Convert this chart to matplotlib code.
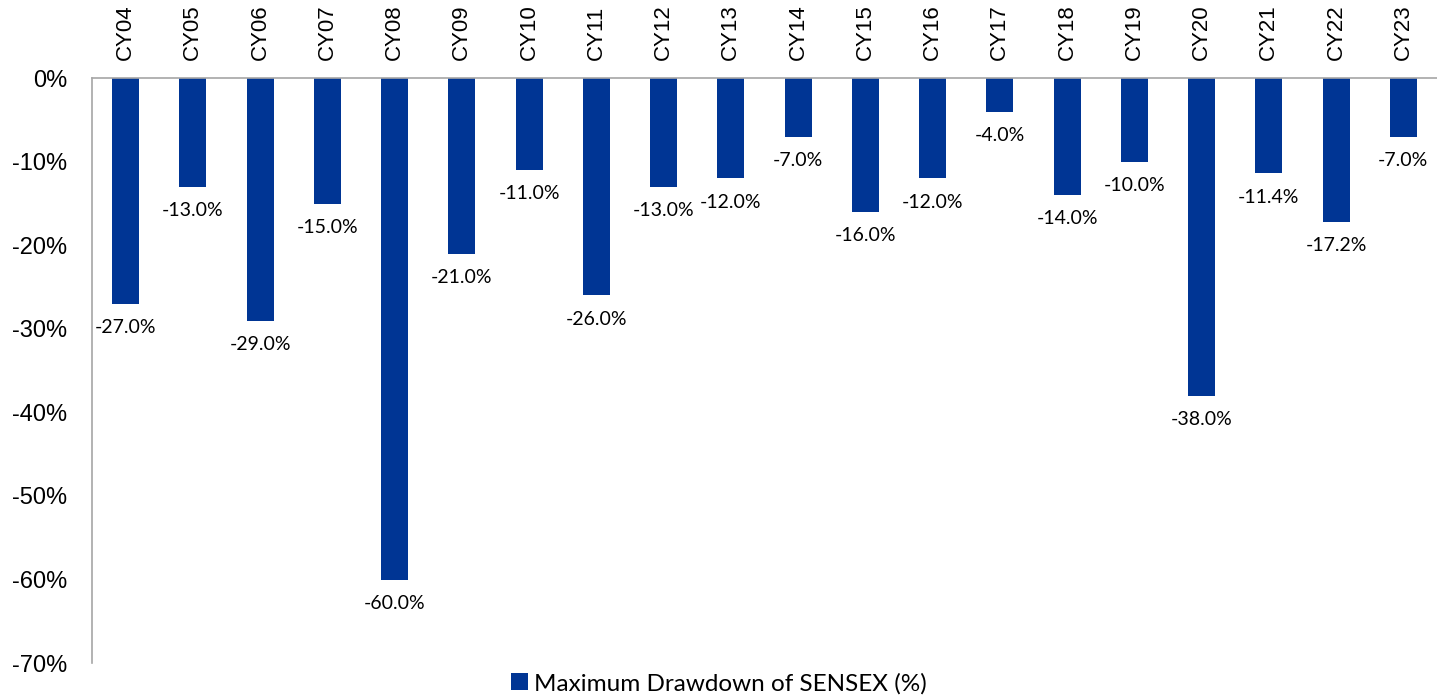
import matplotlib.pyplot as plt
import numpy as np

# data
years = ['CY04', 'CY05', 'CY06', 'CY07', 'CY08', 'CY09', 'CY10', 'CY11', 'CY12', 'CY13',
         'CY14', 'CY15', 'CY16', 'CY17', 'CY18', 'CY19', 'CY20', 'CY21', 'CY22', 'CY23']
drawdown = [-27.0, -13.0, -29.0, -15.0, -60.0, -21.0, -11.0, -26.0, -13.0, -12.0,
            -7.0, -16.0, -12.0, -4.0, -14.0, -10.0, -38.0, -11.4, -17.2, -7.0]
yticks = [0, -10, -20, -30, -40, -50, -60, -70]

bar_color = '#003594'

fig = plt.figure(figsize=(14.37, 6.98), dpi=100)
ax = fig.add_axes([0.064, 0.050, 0.936, 0.838])

x = np.arange(len(years))
bars = ax.bar(x, drawdown, width=0.4, color=bar_color, label='Maximum Drawdown of SENSEX (%)')

for xi, v in zip(x, drawdown):
    ax.annotate(f'{v:.1f}%', (xi, v), xytext=(0, -11), textcoords='offset points',
                ha='center', va='top', fontsize=14, family='Lato')

ax.set_xlim(-0.5, len(years) - 0.5)
ax.set_ylim(-70, 0)
ax.set_yticks(yticks)
ax.set_yticklabels([f'{t}%' for t in yticks], fontsize=17, family='Liberation Sans')
ax.xaxis.tick_top()
ax.set_xticks(x)
ax.set_xticklabels(years, rotation=90, fontsize=16, family='Liberation Sans')
ax.tick_params(axis='both', length=0)
ax.tick_params(axis='y', pad=18)
ax.tick_params(axis='x', pad=13)

for s in ['bottom', 'right']:
    ax.spines[s].set_visible(False)
for s in ['left', 'top']:
    ax.spines[s].set_color('#a6a6a6')
    ax.spines[s].set_linewidth(1.2)

fig.legend(loc='lower center', bbox_to_anchor=(0.5, -0.026), frameon=False,
           handlelength=0.7, handleheight=0.7, handletextpad=0.25,
           prop={'family': 'Lato', 'size': 17.5})

fig.savefig('out.png', dpi=100)
